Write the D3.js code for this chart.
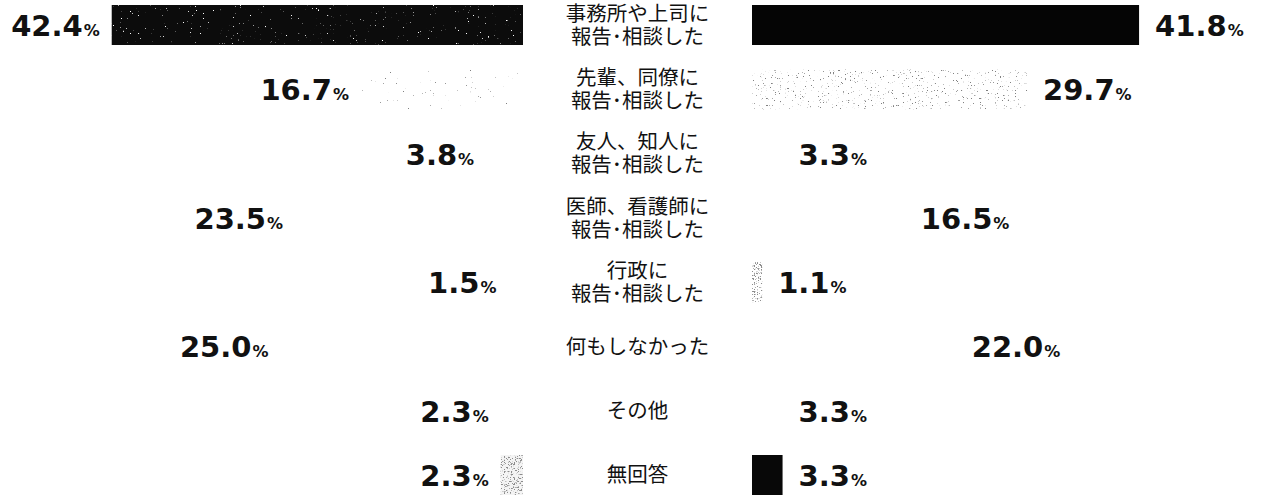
<!DOCTYPE html>
<html lang="ja">
<head>
<meta charset="utf-8">
<script src="https://cdn.jsdelivr.net/npm/d3@7"></script>
<style>
  html, body { margin: 0; padding: 0; background: #fff; }
  svg { display: block; }
</style>
</head>
<body>
<svg id="chart" width="1265" height="496"></svg>
<script>
// Answers per category; left and right columns compare two respondent groups
const categories = [
  ["事務所や上司に", "報告･相談した"],
  ["先輩、同僚に", "報告･相談した"],
  ["友人、知人に", "報告･相談した"],
  ["医師、看護師に", "報告･相談した"],
  ["行政に", "報告･相談した"],
  ["何もしなかった"],
  ["その他"],
  ["無回答"]
];
const leftValues = [42.4, 16.7, 3.8, 23.5, 1.5, 25.0, 2.3, 2.3];
const rightValues = [41.8, 29.7, 3.3, 16.5, 1.1, 22.0, 3.3, 3.3];

// Bar tones of the printed sheet: base fill plus an optional halftone grain
const leftFills = ["#0c0c0c", "#ffffff", "#ffffff", "#ffffff", "#ffffff", "#ffffff", "#ffffff", "#f4f4f4"];
const leftGrain = ["grain-light", "grain-faint", null, null, null, null, null, "grain-dense"];
const rightFills = ["#050505", "#ffffff", "#ffffff", "#ffffff", "#ffffff", "#ffffff", "#ffffff", "#080808"];
const rightGrain = [null, "grain-mid", null, null, "grain-dense", null, null, null];

const svg = d3.select("#chart");

// Halftone grain filters: thresholded noise clipped to the bar's shape
const grainDefs = [
  { id: "grain-light", color: [1, 1, 1], slope: 14, cut: 10.3, seed: 4, freq: 0.6 },
  { id: "grain-faint", color: [0.5, 0.5, 0.5], slope: 14, cut: 10.5, seed: 7, freq: 0.6 },
  { id: "grain-mid", color: [0.5, 0.5, 0.5], slope: 12, cut: 8.2, seed: 11, freq: 0.6 },
  { id: "grain-dense", color: [0.55, 0.55, 0.55], slope: 10, cut: 5.6, seed: 2, freq: 0.7 }
];
const defs = svg.append("defs");
grainDefs.forEach(g => {
  const f = defs.append("filter")
    .attr("id", g.id)
    .attr("x", 0).attr("y", 0).attr("width", 1).attr("height", 1)
    .attr("color-interpolation-filters", "sRGB");
  f.append("feTurbulence")
    .attr("type", "fractalNoise")
    .attr("baseFrequency", g.freq)
    .attr("numOctaves", 2)
    .attr("seed", g.seed)
    .attr("result", "noise");
  f.append("feColorMatrix")
    .attr("in", "noise")
    .attr("type", "matrix")
    .attr("values", [
      0, 0, 0, 0, g.color[0],
      0, 0, 0, 0, g.color[1],
      0, 0, 0, 0, g.color[2],
      g.slope, 0, 0, 0, -g.cut
    ].join(" "))
    .attr("result", "specks");
  f.append("feComposite")
    .attr("in", "specks")
    .attr("in2", "SourceGraphic")
    .attr("operator", "in");
});

const rowIndex = d3.range(categories.length);
const y = d3.scalePoint().domain(rowIndex).range([25, 475]);
const barH = 40;

const xLeft = d3.scaleLinear().domain([0, 50]).range([523, 38]);
const xRight = d3.scaleLinear().domain([0, 50]).range([752, 1215]);
const labelX = (xLeft(0) + xRight(0)) / 2;

const numFont = "'DejaVu Sans', sans-serif";
const catFont = "'Noto Sans CJK JP', 'Noto Sans', sans-serif";

function drawBars(values, fills, grains, xs, leftward) {
  const g = svg.append("g");
  const rows = values.map((v, i) => ({ v, i }));
  const bx = d => leftward ? xs(d.v) : xs(0);
  const bw = d => Math.abs(xs(d.v) - xs(0));
  g.selectAll("rect.bar")
    .data(rows)
    .join("rect")
    .attr("class", "bar")
    .attr("x", bx)
    .attr("y", d => y(d.i) - barH / 2)
    .attr("width", bw)
    .attr("height", barH)
    .attr("fill", d => fills[d.i]);
  g.selectAll("rect.grain")
    .data(rows.filter(d => grains[d.i]))
    .join("rect")
    .attr("class", "grain")
    .attr("x", bx)
    .attr("y", d => y(d.i) - barH / 2)
    .attr("width", bw)
    .attr("height", barH)
    .attr("fill", "#000")
    .attr("filter", d => `url(#${grains[d.i]})`);
}

drawBars(leftValues, leftFills, leftGrain, xLeft, true);
drawBars(rightValues, rightFills, rightGrain, xRight, false);

function valueLabel(sel) {
  sel.append("tspan")
    .attr("font-size", 29)
    .text(d => d.toFixed(1));
  sel.append("tspan")
    .attr("font-size", 16)
    .attr("dx", 1)
    .text("%");
}

svg.append("g").selectAll("text")
  .data(leftValues)
  .join("text")
  .attr("x", d => xLeft(d) - 12)
  .attr("y", (d, i) => y(i) + 11)
  .attr("text-anchor", "end")
  .attr("font-family", numFont)
  .attr("font-weight", "bold")
  .attr("fill", "#111")
  .call(valueLabel);

svg.append("g").selectAll("text")
  .data(rightValues)
  .join("text")
  .attr("x", d => xRight(d) + 16)
  .attr("y", (d, i) => y(i) + 11)
  .attr("text-anchor", "start")
  .attr("font-family", numFont)
  .attr("font-weight", "bold")
  .attr("fill", "#111")
  .call(valueLabel);

// Category names in the centre column, one or two lines
const lineGap = 23;
const catFontSize = 20.5;
categories.forEach((lines, i) => {
  const top = y(i) - (lines.length - 1) * lineGap / 2;
  svg.append("g").selectAll("text")
    .data(lines)
    .join("text")
    .attr("x", labelX)
    .attr("y", (ln, k) => top + k * lineGap + catFontSize * 0.36)
    .attr("text-anchor", "middle")
    .attr("font-family", catFont)
    .attr("font-size", catFontSize)
    .attr("fill", "#111")
    .text(ln => ln);
});
</script>
</body>
</html>
